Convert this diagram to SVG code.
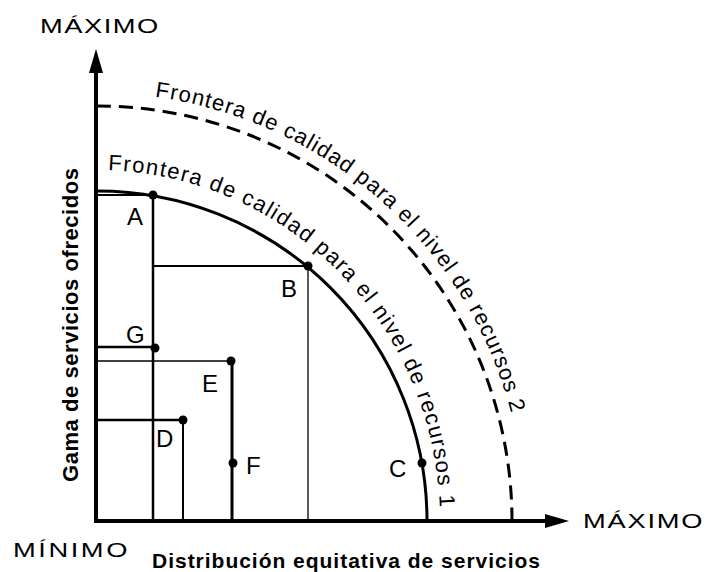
<svg xmlns="http://www.w3.org/2000/svg" xmlns:xlink="http://www.w3.org/1999/xlink" width="708" height="572" viewBox="0 0 708 572">
<style>
.lbl{font-family:"Liberation Sans",Arial,sans-serif;font-size:24px;fill:#000}
.cap{font-family:"Liberation Sans",Arial,sans-serif;font-size:21px;fill:#000}
.bold{font-family:"Liberation Sans",Arial,sans-serif;font-weight:bold;fill:#000}
.c1{font-family:"Liberation Sans",Arial,sans-serif;font-size:22px;letter-spacing:1.44px;fill:#000}
.c2{font-family:"Liberation Sans",Arial,sans-serif;font-size:22px;letter-spacing:1.12px;fill:#000}
.ln{stroke:#000;fill:none}
.dot{fill:#000}
</style>
<defs>
<marker id="arr" viewBox="0 0 24 14" markerWidth="24" markerHeight="14" refX="1" refY="7" markerUnits="userSpaceOnUse" orient="auto">
<path d="M0,0 L24,7 L0,14 z" fill="#000"/>
</marker>
<path id="p1" d="M97,170 A343 351 0 0 1 440,521"/>
<path id="p2" d="M97,93 A428 428 0 0 1 525,521"/>
</defs>
<rect width="708" height="572" fill="#fff"/>

<g id="axes">
<line class="ln" x1="96" y1="523" x2="96" y2="72" stroke-width="4" marker-end="url(#arr)"/>
<line class="ln" x1="94" y1="521" x2="546" y2="521" stroke-width="4" marker-end="url(#arr)"/>
</g>

<g id="connectors">
<path id="curve1" class="ln" d="M97,191 A330 330 0 0 1 427,521" stroke-width="3"/>
<path id="curve2" class="ln" d="M97,106 A415 415 0 0 1 512,521" stroke-width="3" stroke-dasharray="14 8"/>
<line class="ln" x1="97" y1="195" x2="153" y2="195" stroke-width="2"/>
<line class="ln" x1="153" y1="195" x2="153" y2="521" stroke-width="2.5"/>
<line class="ln" x1="153" y1="266" x2="308" y2="266" stroke-width="2"/>
<line class="ln" x1="308" y1="266" x2="308" y2="521" stroke-width="1.3"/>
<line class="ln" x1="97" y1="347" x2="155" y2="347" stroke-width="2.5"/>
<line class="ln" x1="97" y1="361" x2="231" y2="361" stroke-width="1.3"/>
<line class="ln" x1="232" y1="361" x2="232" y2="521" stroke-width="3"/>
<line class="ln" x1="97" y1="420" x2="183" y2="420" stroke-width="2.5"/>
<line class="ln" x1="183" y1="420" x2="183" y2="521" stroke-width="2"/>
</g>

<g id="A"><circle class="dot" cx="153" cy="195" r="4.5"/><text class="lbl" x="127" y="225">A</text></g>
<g id="B"><circle class="dot" cx="308" cy="266" r="4.5"/><text class="lbl" x="281" y="297">B</text></g>
<g id="C"><circle class="dot" cx="422" cy="463" r="4.5"/><text class="lbl" x="389" y="477">C</text></g>
<g id="D"><circle class="dot" cx="183" cy="420" r="4.5"/><text class="lbl" x="156" y="447">D</text></g>
<g id="E"><circle class="dot" cx="231" cy="361" r="4.5"/><text class="lbl" x="202" y="392">E</text></g>
<g id="F"><circle class="dot" cx="233" cy="463" r="4.5"/><text class="lbl" x="246" y="474">F</text></g>
<g id="G"><circle class="dot" cx="155" cy="348" r="4.5"/><text class="lbl" x="126" y="343">G</text></g>

<g id="frontier1-label">
<text class="c1"><textPath xlink:href="#p1" href="#p1" startOffset="11">Frontera</textPath></text>
<text class="c1"><textPath xlink:href="#p1" href="#p1" startOffset="113.2">de</textPath></text>
<text class="c1"><textPath xlink:href="#p1" href="#p1" startOffset="148.1">calidad</textPath></text>
<text class="c1"><textPath xlink:href="#p1" href="#p1" startOffset="235.4">para</textPath></text>
<text class="c1"><textPath xlink:href="#p1" href="#p1" startOffset="292.8">el</textPath></text>
<text class="c1"><textPath xlink:href="#p1" href="#p1" startOffset="320.3">nivel</textPath></text>
<text class="c1"><textPath xlink:href="#p1" href="#p1" startOffset="380.3">de</textPath></text>
<text class="c1"><textPath xlink:href="#p1" href="#p1" startOffset="415.2">recursos</textPath></text>
<text class="c1"><textPath xlink:href="#p1" href="#p1" startOffset="518.7">1</textPath></text>
</g>
<g id="frontier2-label">
<text class="c2"><textPath xlink:href="#p2" href="#p2" startOffset="58">Frontera</textPath></text>
<text class="c2"><textPath xlink:href="#p2" href="#p2" startOffset="157.3">de</textPath></text>
<text class="c2"><textPath xlink:href="#p2" href="#p2" startOffset="191.2">calidad</textPath></text>
<text class="c2"><textPath xlink:href="#p2" href="#p2" startOffset="276">para</textPath></text>
<text class="c2"><textPath xlink:href="#p2" href="#p2" startOffset="331.7">el</textPath></text>
<text class="c2"><textPath xlink:href="#p2" href="#p2" startOffset="358.3">nivel</textPath></text>
<text class="c2"><textPath xlink:href="#p2" href="#p2" startOffset="416.3">de</textPath></text>
<text class="c2"><textPath xlink:href="#p2" href="#p2" startOffset="450.2">recursos</textPath></text>
<text class="c2"><textPath xlink:href="#p2" href="#p2" startOffset="550.7">2</textPath></text>
</g>

<g id="axis-labels">
<text class="cap" transform="translate(40,33) scale(1.3,1)" x="0" y="0" textLength="91" lengthAdjust="spacing">MÁXIMO</text>
<text class="cap" transform="translate(583,528) scale(1.3,1)" x="0" y="0" textLength="92" lengthAdjust="spacing">MÁXIMO</text>
<text class="cap" transform="translate(13,557) scale(1.3,1)" x="0" y="0" textLength="88" lengthAdjust="spacing">MÍNIMO</text>
<text class="bold" x="152" y="568" font-size="21" textLength="388" lengthAdjust="spacing">Distribución equitativa de servicios</text>
<text class="bold" transform="translate(78,325) rotate(-90)" x="0" y="0" font-size="22" text-anchor="middle" textLength="314" lengthAdjust="spacing">Gama de servicios ofrecidos</text>
</g>
</svg>
